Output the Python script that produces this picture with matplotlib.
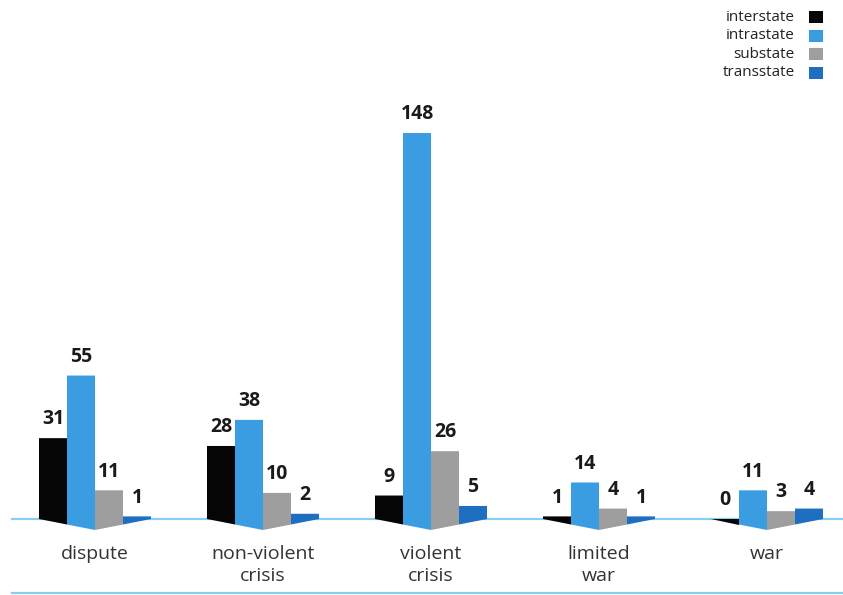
import matplotlib.pyplot as plt
from matplotlib.patches import Polygon, Rectangle

# data
categories = ["dispute", "non-violent\ncrisis", "violent\ncrisis", "limited\nwar", "war"]
series = ["interstate", "intrastate", "substate", "transstate"]
interstate = [31, 28, 9, 1, 0]
intrastate = [55, 38, 148, 14, 11]
substate = [11, 10, 26, 4, 3]
transstate = [1, 2, 5, 1, 4]
values = [interstate, intrastate, substate, transstate]
colors = ["#050505", "#3a9de2", "#9e9e9e", "#1f6fc0"]

plt.rcParams['font.family'] = ['Open Sans', 'DejaVu Sans']

W, H = 843, 595
k = 2.608            # pixels per unit
base_px = 519        # baseline from top
fig = plt.figure(figsize=(W / 100, H / 100), dpi=100)
ax = fig.add_axes([0, 0, 1, 1])
ax.set_xlim(0, W)
ax.set_ylim(-(H - base_px) / k, base_px / k)
ax.axis("off")

first_center, step, bw = 95, 168, 28
depth = 11 / k


def floor_y(x, c):
    # V shaped bottom, lowest under the group centre
    return -depth * (1 - abs(x - c) / (2 * bw))


# baseline and bottom rule
line_col = "#86cff3"
ax.plot([12, W], [0, 0], color=line_col, lw=1.6, zorder=1)
ax.plot([12, W], [-(593 - base_px) / k] * 2, color=line_col, lw=1.6, zorder=1)

for i, cat in enumerate(categories):
    c = first_center + i * step
    for j, s in enumerate(series):
        v = values[j][i]
        xl = c + (j - 2) * bw
        xr = xl + bw
        pts = [(xl, v), (xr, v), (xr, floor_y(xr, c)), (xl, floor_y(xl, c))]
        ax.add_patch(Polygon(pts, closed=True, facecolor=colors[j], edgecolor="none", zorder=2))
        ax.annotate(str(v), (xl + bw / 2, v), xytext=(0, 13.5), textcoords="offset points",
                    ha="center", va="center", fontsize=14, fontweight="bold", color="#1a1a1a")
    ax.text(c, -(545 - base_px) / k, cat, ha="center", va="top", fontsize=14,
            color="#333333", linespacing=1.3)

# legend
for j, s in enumerate(series):
    y = (base_px - (17 + j * 18.5)) / k
    ax.text(795, y, s, ha="right", va="center", fontsize=11, color="#222222")
    ax.add_patch(Rectangle((809, y - 6 / k), 14, 12 / k, facecolor=colors[j], edgecolor="none"))

fig.savefig("out.png", dpi=100)
